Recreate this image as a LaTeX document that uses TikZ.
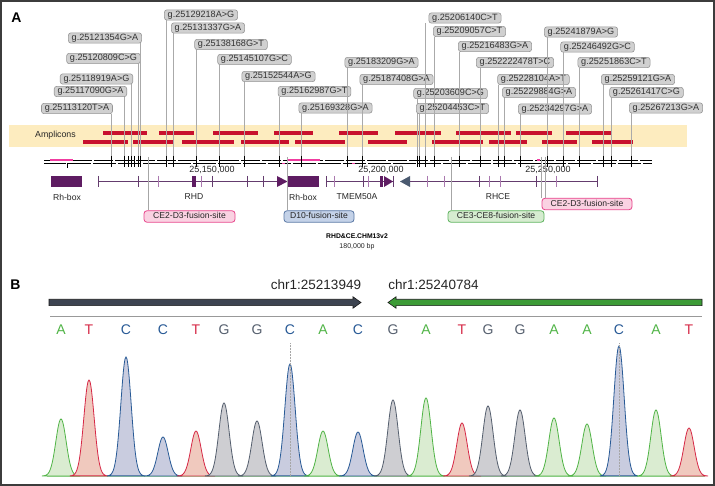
\documentclass[tikz,border=0pt]{standalone}
\usepackage{fontspec}
\setmainfont{Liberation Sans}
\definecolor{framec}{RGB}{60,60,60}
\definecolor{snpfill}{RGB}{208,208,208}
\definecolor{snpborder}{RGB}{150,150,150}
\definecolor{lblgray}{RGB}{170,170,170}
\definecolor{bandc}{RGB}{253,236,191}
\definecolor{amp}{RGB}{200,16,46}
\definecolor{gpurple}{RGB}{94,28,98}
\definecolor{gline}{RGB}{100,60,110}
\definecolor{glight}{RGB}{170,120,175}
\definecolor{gslate}{RGB}{75,90,112}
\definecolor{pinkfill}{RGB}{250,210,226}
\definecolor{pinkbord}{RGB}{232,70,140}
\definecolor{bluefill}{RGB}{196,210,232}
\definecolor{bluebord}{RGB}{90,120,165}
\definecolor{greenfill}{RGB}{214,236,208}
\definecolor{greenbord}{RGB}{95,180,95}
\definecolor{pinkline}{RGB}{240,60,160}
\definecolor{lineA}{RGB}{80,180,70}
\definecolor{fillA}{RGB}{214,234,204}
\definecolor{lineT}{RGB}{214,40,70}
\definecolor{fillT}{RGB}{239,196,184}
\definecolor{lineC}{RGB}{40,90,150}
\definecolor{fillC}{RGB}{196,199,220}
\definecolor{lineG}{RGB}{85,95,110}
\definecolor{fillG}{RGB}{201,201,206}
\definecolor{darkarrow}{RGB}{61,68,81}
\definecolor{greenarrow}{RGB}{60,155,54}
\begin{document}
\begin{tikzpicture}[x=1pt,y=-1pt,
  snp/.style={draw=snpborder, fill=snpfill, rounded corners=2.5pt, line width=0.6pt,
    font=\fontsize{9.1}{10}\selectfont, text=black!80, inner xsep=3.3pt, inner ysep=0.9pt,
    text height=6.6pt, text depth=1.9pt},
  lblline/.style={draw=lblgray, line width=0.6pt},
  axtick/.style={draw=black, line width=0.7pt},
  ampbar/.style={draw=amp, line width=4.2pt},
  fusion/.style={rounded corners=3pt, line width=0.8pt, font=\fontsize{8.6}{10}\selectfont,
    text=black!85, inner sep=0pt, minimum height=11.5pt, text height=6.3pt, text depth=1.8pt},
  glabel/.style={font=\fontsize{8.6}{10}\selectfont, text=black!85},
  axlabel/.style={font=\fontsize{9}{10}\selectfont, text=black!85},
  gtick/.style={draw=gline, line width=0.8pt},
  gtickl/.style={draw=glight, line width=0.8pt},
  panel/.style={font=\bfseries\fontsize{14}{16}\selectfont},
  basel/.style={font=\fontsize{14}{16}\selectfont, anchor=base},
  chrl/.style={font=\fontsize{13.5}{15}\selectfont, anchor=base, text=black!85},
  fline/.style={draw=gray!70, line width=0.6pt}
]
\useasboundingbox (0,0) rectangle (715,486);
\fill[white] (0,0) rectangle (715,486);
\draw[framec, line width=1.6pt] (1,1) rectangle (714,485);

% ---------- Panel A ----------
\node[panel] (pA) at (16.5,18) {A};

% amplicon band
\fill[bandc] (9,125) rectangle (687,147);
\node[font=\fontsize{8.8}{10}\selectfont, text=black!85] (amplbl) at (55.5,135.5) {Amplicons};
\foreach \a/\b in {103/147,159/194,213/258,274/313,339/378,395/441,456/511,516/552,566/612}
  \draw[ampbar] (\a,132.7) -- (\b,132.7);
\foreach \a/\b in {83/128,133/174,182/234,241/289,295/345,368/407,432/483,489/527,542/577,592/633}
  \draw[ampbar] (\a,142) -- (\b,142);

% SNP labels and their lines
\foreach \cx/\cy/\lx/\t [count=\i] in {
  77/108.5/111/g.25113120T>A,
  90.5/91.5/124/g.25117090G>A,
  96.5/79/131/g.25118919A>G,
  103.5/58.5/138/g.25120809C>G,
  105/38/140/g.25121354G>A,
  201/15/166/g.25129218A>G,
  208/28/173/g.25131337G>A,
  231/44.5/196/g.25138168G>T,
  254.5/59.5/219/g.25145107G>C,
  278.5/76.5/244/g.25152544A>G,
  314.5/91.5/279/g.25162987G>T,
  335.5/108/301/g.25169328G>A,
  381.5/62.5/347/g.25183209G>A,
  396.5/79.5/362/g.25187408G>A,
  450.5/93.5/417/g.25203609C>G,
  452.5/108.5/419/g.25204453C>T,
  465/18/425/g.25206140C>T,
  469.5/31.5/434/g.25209057C>T,
  495/46.5/459/g.25216483G>A,
  515/62.5/480/g.252222478T>C,
  533.5/79.5/498/g.25228104A>T,
  539/92.5/504/g.25229884G>A,
  555/109/520/g.25234297G>A,
  581/32/547/g.25241879A>G,
  597.5/47/563/g.25246492G>C,
  614/62.5/579/g.25251863C>T,
  638/79.5/603/g.25259121G>A,
  646.5/92.5/611/g.25261417C>G,
  666/108/631/g.25267213G>A}
{
  \coordinate (t\i) at (\lx,156);
  \coordinate (u\i) at (\lx,167);
  \node[snp] (s\i) at (\cx,\cy) {\t};
  \draw[lblline] (s\i.south -| t\i) -- (t\i);
}

% genome axis
\draw[black, line width=0.9pt] (44,160) -- (652,160);
\draw[black, line width=0.9pt] (44,163.2) -- (652,163.2);
\draw[white, line width=0.5pt, dash pattern=on 2pt off 19pt] (50,160) -- (652,160);
\draw[white, line width=0.5pt, dash pattern=on 2pt off 23pt, dash phase=9pt] (50,163.2) -- (652,163.2);
\draw[pinkline, line width=1.1pt] (50,160) -- (73,160);
\draw[pinkline, line width=1.1pt] (288,160) -- (320,160);
\draw[pinkline, line width=1.1pt] (282,163.2) -- (285,163.2);
\draw[pinkline, line width=1.1pt] (352,163.2) -- (355,163.2);
\draw[pinkline, line width=1.1pt] (537,160) -- (540,160);
\draw[axtick] (67,163.2) -- (67,168);
\foreach \i in {1,...,29} \draw[axtick] (t\i) -- (u\i);
\foreach \x in {128,134} \draw[axtick] (\x,156) -- (\x,167);
\node[axlabel] (ax1) at (212,170) {25,150,000};
\node[axlabel] (ax2) at (381,170) {25,200,000};
\node[axlabel] (ax3) at (548,170) {25,250,000};

% gene track
\fill[gpurple] (51,176) rectangle (82,187);
\draw[gline, line width=0.8pt] (98,181.5) -- (277,181.5);
\fill[gpurple] (277,176) -- (287.5,181.5) -- (277,187) -- cycle;
\fill[gpurple] (287.5,176) rectangle (319,187);
\fill[gpurple] (192,176) rectangle (195.5,187);
\foreach \x in {98,138,212,247,263} \draw[gtick] (\x,176) -- (\x,187);
\foreach \x in {158,201} \draw[gtickl] (\x,176) -- (\x,187);
\draw[gline, line width=0.8pt] (326,181.5) -- (393,181.5);
\foreach \x in {326,363,393} \draw[gtick] (\x,176) -- (\x,187);
\foreach \x in {334,368} \draw[gtickl] (\x,176) -- (\x,187);
\fill[gpurple] (379.5,176) rectangle (382.5,187);
\fill[gpurple] (384,176) -- (393,181.5) -- (384,187) -- cycle;
\fill[gslate] (410,176) -- (400,181.5) -- (410,187) -- cycle;
\draw[gline, line width=0.8pt] (410,181.5) -- (597,181.5);
\foreach \x in {479,536,597} \draw[gtick] (\x,176) -- (\x,187);
\foreach \x in {427,444,489,500,556} \draw[gtickl] (\x,176) -- (\x,187);
\node[glabel] (g1) at (67,197) {Rh-box};
\node[glabel] (g2) at (194,197) {RHD};
\node[glabel] (g3) at (303,197) {Rh-box};
\node[glabel] (g4) at (357,197) {TMEM50A};
\node[glabel] (g5) at (498,197) {RHCE};

% fusion sites
\node[fusion, draw=pinkbord, fill=pinkfill, minimum width=91pt] (f1) at (189.5,216.5) {CE2-D3-fusion-site};
\node[fusion, draw=bluebord, fill=bluefill, minimum width=70pt] (f2) at (319,216.5) {D10-fusion-site};
\node[fusion, draw=greenbord, fill=greenfill, minimum width=96pt] (f3) at (496,216.5) {CE3-CE8-fusion-site};
\node[fusion, draw=pinkbord, fill=pinkfill, minimum width=90pt] (f4) at (587,204) {CE2-D3-fusion-site};
\coordinate (c1) at (148,157);
\coordinate (c2) at (287,157);
\coordinate (c3) at (451,157);
\coordinate (c4) at (541,157);
\coordinate (c5) at (545,157);
\draw[fline] (c1) -- (c1 |- f1.north);
\draw[fline] (c2) -- (c2 |- f2.north);
\draw[fline] (c3) -- (c3 |- f3.north);
\draw[fline] (c4) -- (c4 |- f4.north);
\draw[fline] (c5) -- (c5 |- f4.north);

\node[font=\bfseries\fontsize{6.8}{8}\selectfont] (ttl) at (357,236) {RHD\&CE.CHM13v2};
\node[font=\fontsize{7}{8}\selectfont, text=black!85] (bp) at (357,247) {180,000 bp};

% ---------- Panel B ----------
\node[panel] (pB) at (15.5,284.5) {B};
\node[chrl] (chrA) at (316,290) {chr1:25213949};
\node[chrl] (chrB) at (433.5,290) {chr1:25240784};

\draw[black!90, line width=0.6pt, fill=darkarrow]
  (49,299.3) -- (353,299.3) -- (353,296.8) -- (361,302.5) -- (353,308.2) -- (353,305.7) -- (49,305.7) -- cycle;
\draw[black!90, line width=0.6pt, fill=greenarrow]
  (702,299.3) -- (396,299.3) -- (396,296.8) -- (388,302.5) -- (396,308.2) -- (396,305.7) -- (702,305.7) -- cycle;
\draw[gray!80, line width=0.8pt] (50,316) -- (702,316);

% bases
\foreach \x/\b [count=\i] in {61/A,89/T,126/C,163/C,196/T,224/G,257/G,290/C,323/A,358/C,
    393/G,426/A,462/T,488/G,520/G,554/A,587/A,619/C,656/A,689/T}
  \node[basel, text=line\b] (b\i) at (\x,334.5) {\b};

% chromatogram peaks
\draw[lineA!50, line width=0.5pt] (47,476) -- (705,476);
\foreach \c/\h/\b in {61/57/A,89/96/T,126/119/C,163/39/C,196/45/T,224/73/G,257/55/G,290/112/C,
    323/45/A,358/44/C,393/76/G,426/78/A,462/53/T,488/70/G,520/66/G,554/58/A,587/52/A,
    619/130/C,656/66/A,689/48/T}
{
  \pgfmathsetmacro\lo{\c-19}
  \pgfmathsetmacro\hi{\c+19}
  \filldraw[draw=line\b, fill=fill\b, fill opacity=0.9, line width=0.8pt]
    plot[domain=\lo:\hi, samples=45, smooth] (\x,{476-\h*exp(-((\x-\c)/7.3)^2)}) -- cycle;
}
\coordinate (d1) at (290,476);
\coordinate (d2) at (619,476);
\draw[gray!70, line width=0.5pt, densely dotted] ([yshift=-5pt]b8.south) -- (d1);
\draw[gray!70, line width=0.5pt, densely dotted] ([yshift=-5pt]b18.south) -- (d2);
\end{tikzpicture}
\end{document}
